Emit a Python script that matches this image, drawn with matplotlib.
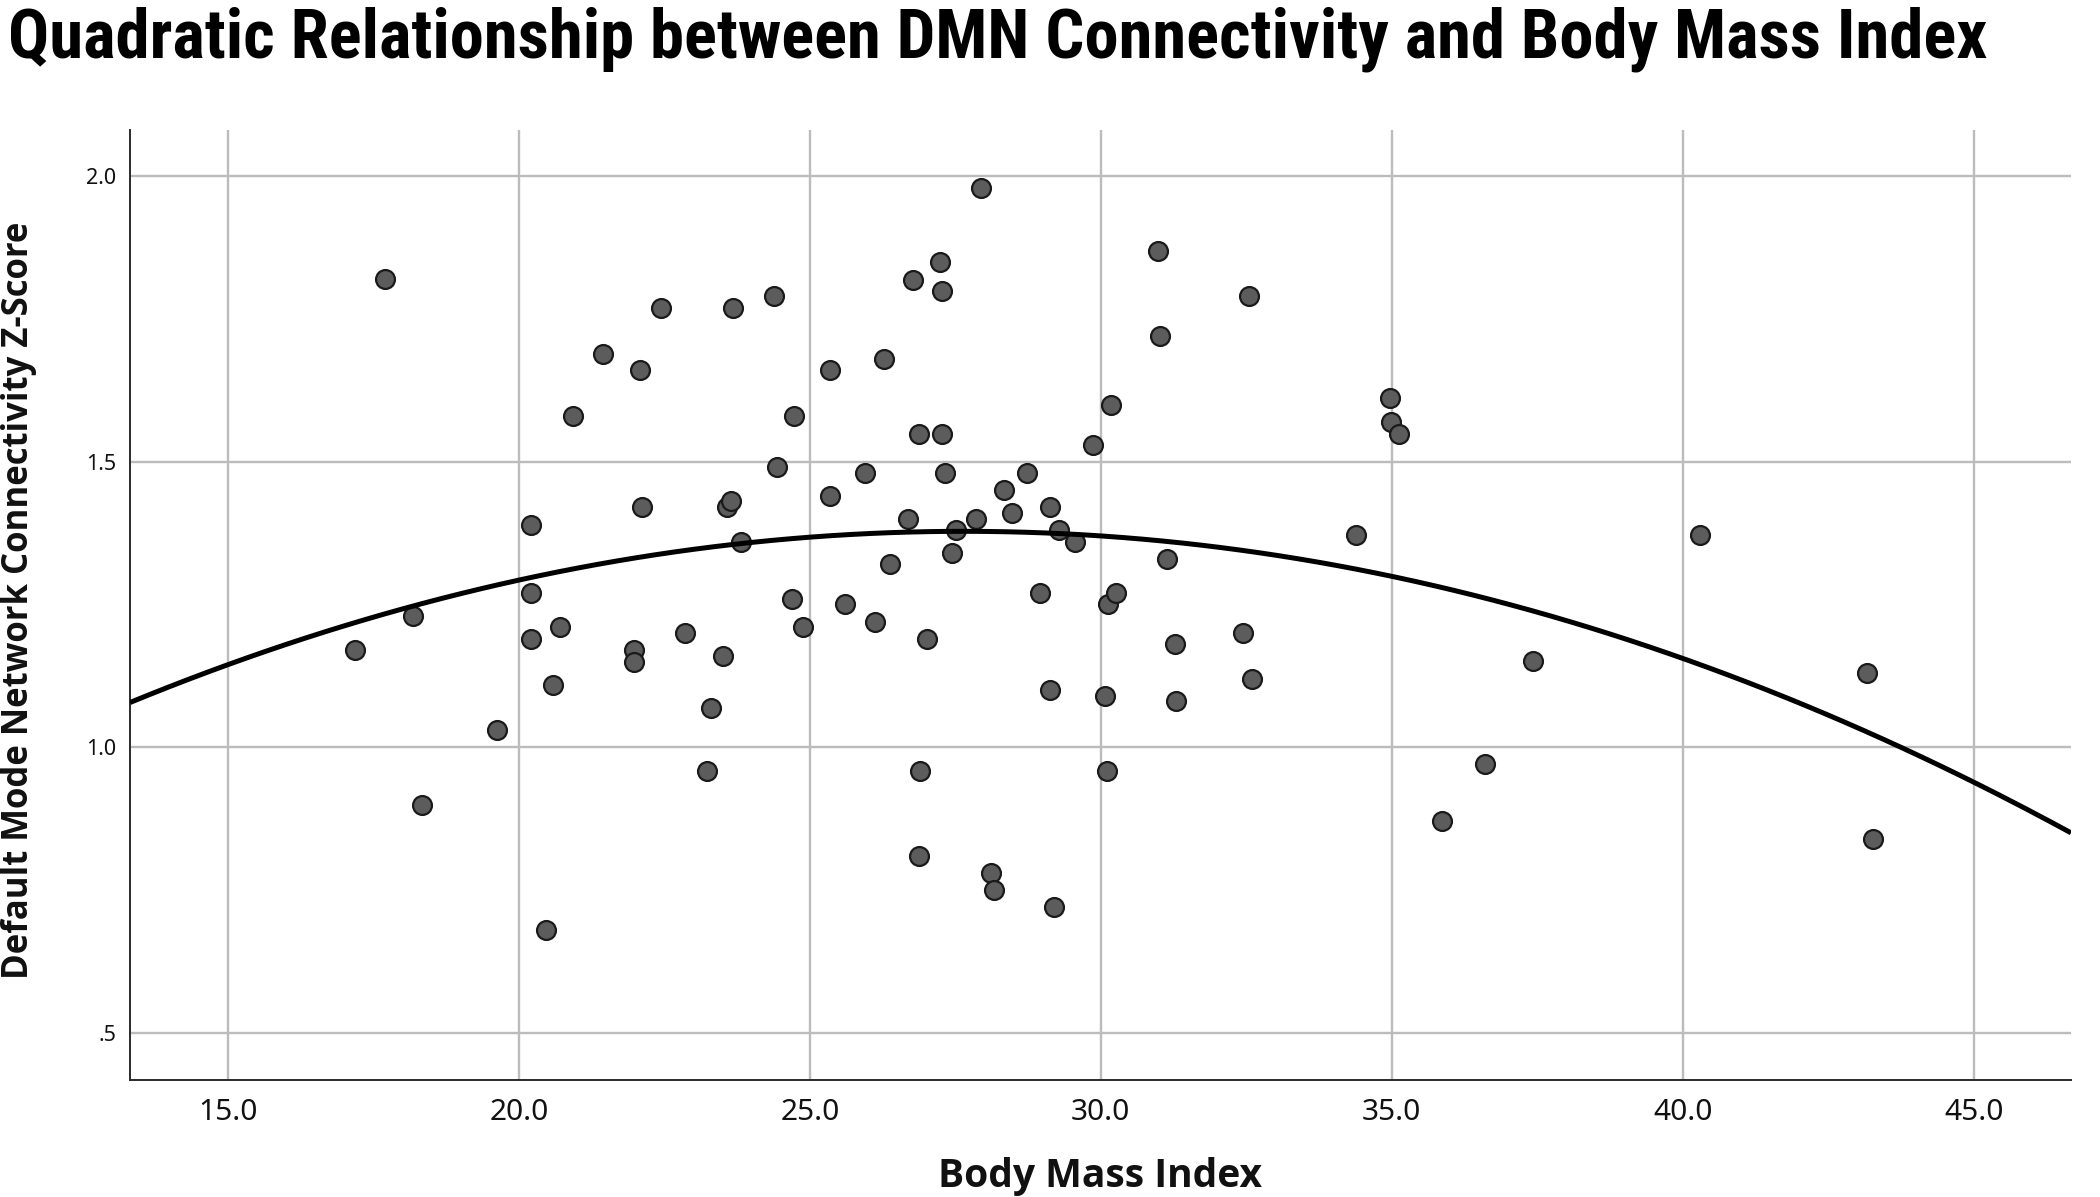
import matplotlib
matplotlib.use("Agg")
import matplotlib.pyplot as plt
from matplotlib import font_manager
import numpy as np

# ---------------- data ----------------
bmi = [17.19, 17.70, 18.19, 18.34, 19.62, 20.21, 20.21, 20.21, 20.46, 20.58,
       20.71, 20.94, 21.45, 21.98, 21.98, 22.08, 22.12, 22.44, 22.85, 23.23,
       23.31, 23.51, 23.58, 23.64, 23.68, 23.81, 24.38, 24.44, 24.70, 24.73,
       24.89, 25.34, 25.34, 25.61, 25.95, 26.12, 26.27, 26.37, 26.68, 26.78,
       26.88, 26.87, 26.90, 27.01, 27.24, 27.28, 27.28, 27.33, 27.51, 27.44,
       27.86, 27.95, 28.11, 28.16, 28.33, 28.47, 28.73, 28.96, 29.13, 29.12,
       29.19, 29.28, 29.55, 29.86, 30.07, 30.12, 30.11, 30.17, 30.26, 30.99,
       31.01, 31.13, 31.28, 31.29, 32.45, 32.55, 32.60, 34.38, 34.97, 34.98,
       35.12, 35.86, 36.60, 37.42, 40.30, 43.16, 43.27]
dmn_z = [1.170, 1.820, 1.230, 0.899, 1.030, 1.390, 1.270, 1.190, 0.680, 1.109,
         1.210, 1.580, 1.689, 1.170, 1.150, 1.660, 1.420, 1.770, 1.200, 0.959,
         1.069, 1.160, 1.420, 1.432, 1.769, 1.360, 1.790, 1.490, 1.260, 1.580,
         1.210, 1.660, 1.440, 1.250, 1.480, 1.220, 1.680, 1.320, 1.400, 1.819,
         1.549, 0.810, 0.959, 1.190, 1.850, 1.799, 1.549, 1.480, 1.380, 1.340,
         1.400, 1.979, 0.780, 0.750, 1.450, 1.410, 1.480, 1.270, 1.100, 1.420,
         0.720, 1.380, 1.360, 1.530, 1.090, 1.250, 0.959, 1.600, 1.270, 1.869,
         1.720, 1.330, 1.180, 1.080, 1.200, 1.790, 1.120, 1.371, 1.611, 1.570,
         1.549, 0.871, 0.971, 1.151, 1.371, 1.130, 0.840]

# quadratic fit line: y = c2*x^2 + c1*x + c0
fit_coefficients = [-0.00146, 0.08074, 0.2618]

x_ticks = [15.0, 20.0, 25.0, 30.0, 35.0, 40.0, 45.0]
x_tick_labels = ["15.0", "20.0", "25.0", "30.0", "35.0", "40.0", "45.0"]
y_ticks = [0.5, 1.0, 1.5, 2.0]
y_tick_labels = [".5", "1.0", "1.5", "2.0"]

title = "Quadratic Relationship between DMN Connectivity and Body Mass Index"
x_label = "Body Mass Index"
y_label = "Default Mode Network Connectivity Z-Score"

# ---------------- fonts ----------------
available = {f.name for f in font_manager.fontManager.ttflist}
def pick(cands):
    for c in cands:
        if c in available:
            return c
    return "DejaVu Sans"

title_font = pick(["Liberation Sans Narrow", "Roboto Condensed", "Open Sans Condensed",
                   "Liberation Sans", "DejaVu Sans"])
label_font = pick(["Open Sans", "Noto Sans", "Lato", "DejaVu Sans"])
tick_font = pick(["Noto Sans", "Open Sans", "DejaVu Sans"])

# ---------------- figure ----------------
W, H, DPI = 2100, 1197, 100
fig = plt.figure(figsize=(W / DPI, H / DPI), dpi=DPI, facecolor="white")
ax = fig.add_axes([130 / W, 1 - 1080 / H, (2071 - 130) / W, (1080 - 130) / H])

ax.set_xlim(13.32, 46.67)
ax.set_ylim(0.417, 2.081)

ax.grid(True, color="#bcbcbc", linewidth=1.7, zorder=0)
ax.set_axisbelow(True)
for s in ["top", "right"]:
    ax.spines[s].set_visible(False)
for s in ["left", "bottom"]:
    ax.spines[s].set_color("#2a2a2a")
    ax.spines[s].set_linewidth(1.4)

ax.set_xticks(x_ticks)
ax.set_xticklabels(x_tick_labels, fontfamily=tick_font, fontsize=21.5, color="#111111")
ax.set_yticks(y_ticks)
ax.set_yticklabels(y_tick_labels, fontfamily=tick_font, fontsize=15.5, color="#111111")
ax.tick_params(axis="both", length=0)
ax.tick_params(axis="x", pad=13)
ax.tick_params(axis="y", pad=10)

ax.scatter(bmi, dmn_z, s=185, facecolor="#5c5c5c", edgecolor="#1a1a1a",
           linewidth=1.6, zorder=3)

xs = np.linspace(13.32, 46.67, 300)
ax.plot(xs, np.polyval(fit_coefficients, xs), color="black", linewidth=3.6,
        zorder=4, solid_capstyle="butt")

# labels
xl = fig.text((937 + 1262) / 2 / W, 1 - 1176 / H, x_label, fontfamily=label_font,
              fontweight="bold", fontsize=26, ha="center", va="center", color="#111111")
yl = fig.text(19 / W, 1 - 600 / H, y_label, fontfamily=label_font, fontweight="bold",
              fontsize=25, rotation=90, ha="center", va="center", color="#111111")

t = fig.text(8 / W, 1 - 57 / H, title, fontfamily=title_font, fontweight="bold",
             fontsize=44, ha="left", va="baseline", color="black")

# fit text sizes to the reference spans
renderer = fig.canvas.get_renderer()
bb = t.get_window_extent(renderer)
t.set_fontsize(44 * 1980 / bb.width)
bb = xl.get_window_extent(renderer)
xl.set_fontsize(26 * 325 / bb.width)
bb = yl.get_window_extent(renderer)
yl.set_fontsize(25 * 757 / bb.height)

fig.savefig("out.png", dpi=DPI, facecolor="white")
